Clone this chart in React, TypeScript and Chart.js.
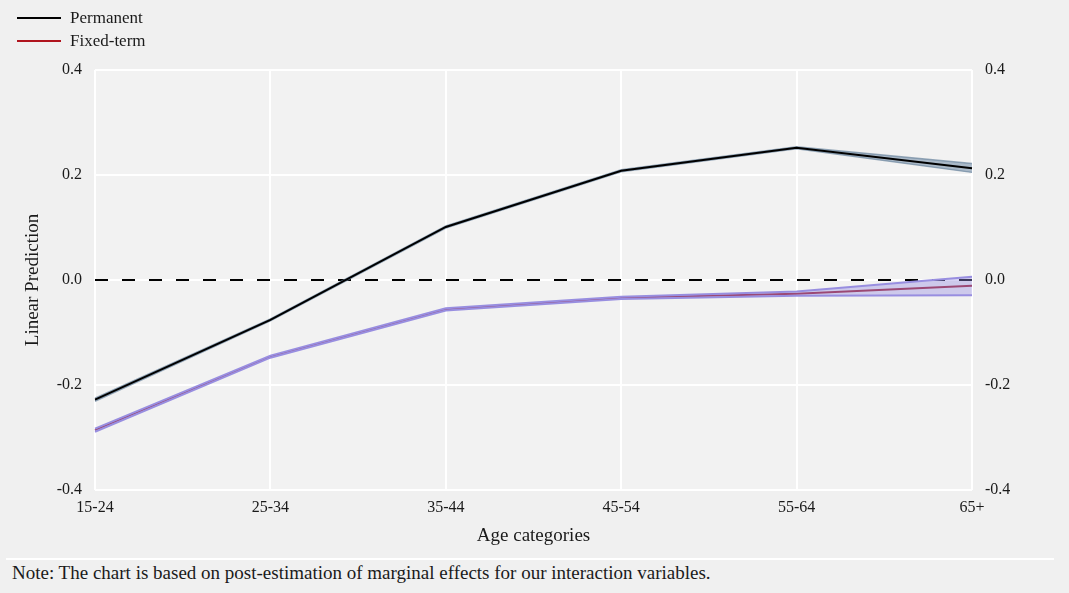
import React, { useEffect, useRef } from "react";
import { Chart, registerables } from "chart.js";

Chart.register(...registerables);

const categories = ["15-24", "25-34", "35-44", "45-54", "55-64", "65+"];
const permanent = [-0.228, -0.076, 0.101, 0.208, 0.252, 0.213];
const permanentUpper = [-0.225, -0.074, 0.103, 0.210, 0.254, 0.222];
const permanentLower = [-0.231, -0.078, 0.099, 0.206, 0.250, 0.205];
const fixedTerm = [-0.286, -0.146, -0.056, -0.034, -0.026, -0.011];
const fixedUpper = [-0.283, -0.144, -0.054, -0.032, -0.022, 0.006];
const fixedLower = [-0.289, -0.148, -0.058, -0.036, -0.030, -0.029];
const zeroLine = [0, 0, 0, 0, 0, 0];
const yMin = -0.4;
const yMax = 0.4;
const yStep = 0.2;

const FONT = "'Liberation Serif', 'Times New Roman', serif";
const TEXT = "#1a1a1a";
const W = 1069;
const H = 555;

const bgPlugin = {
  id: "areaBg",
  beforeDraw(chart: any) {
    const { ctx, chartArea } = chart;
    ctx.save();
    ctx.fillStyle = "#f2f2f2";
    ctx.fillRect(chartArea.left, chartArea.top, chartArea.right - chartArea.left, chartArea.bottom - chartArea.top);
    ctx.restore();
  },
};

export default function App() {
  const ref = useRef<HTMLCanvasElement>(null);

  useEffect(() => {
    document.body.style.margin = "0";
    const canvas = ref.current!;
    const tickFmt = (v: any) => Number(v).toFixed(1);
    const chart = new Chart(canvas, {
      type: "line",
      data: {
        labels: categories,
        datasets: [
          {
            label: "zero",
            data: zeroLine,
            borderColor: "#000",
            borderWidth: 2,
            borderDash: [13, 14],
            pointRadius: 0,
            fill: false,
            order: 10,
          },
          {
            label: "permUpper",
            data: permanentUpper,
            borderColor: "rgba(110,135,160,0.7)",
            borderWidth: 1.5,
            pointRadius: 0,
            backgroundColor: "rgba(120,145,170,0.6)",
            fill: "+1",
            order: 9,
          },
          {
            label: "permLower",
            data: permanentLower,
            borderColor: "rgba(110,135,160,0.7)",
            borderWidth: 1.5,
            pointRadius: 0,
            fill: false,
            order: 8,
          },
          {
            label: "Permanent",
            data: permanent,
            borderColor: "#000",
            borderWidth: 2,
            pointRadius: 0,
            fill: false,
            order: 7,
          },
          {
            label: "Fixed-term",
            data: fixedTerm,
            borderColor: "#9e1b2c",
            borderWidth: 2,
            pointRadius: 0,
            fill: false,
            order: 6,
          },
          {
            label: "fixedUpper",
            data: fixedUpper,
            borderColor: "rgb(152,142,224)",
            borderWidth: 2,
            pointRadius: 0,
            backgroundColor: "rgba(150,140,224,0.4)",
            fill: "+1",
            order: 5,
          },
          {
            label: "fixedLower",
            data: fixedLower,
            borderColor: "rgb(152,142,224)",
            borderWidth: 2,
            pointRadius: 0,
            fill: false,
            order: 4,
          },
        ],
      },
      options: {
        animation: false,
        responsive: false,
        devicePixelRatio: 1,
        layout: { padding: { top: 70, left: 0, right: 0, bottom: 0 } },
        plugins: {
          legend: { display: false },
          tooltip: { enabled: false },
        },
        elements: { line: { tension: 0 } },
        scales: {
          x: {
            type: "category",
            offset: false,
            grid: { color: "#ffffff", lineWidth: 2, drawTicks: false },
            border: { display: false },
            ticks: {
              padding: 8,
              color: TEXT,
              font: { family: FONT, size: 16 },
              maxRotation: 0,
              autoSkip: false,
            },
            title: {
              display: true,
              text: "Age categories",
              color: TEXT,
              font: { family: FONT, size: 19 },
              padding: { top: 0, bottom: 8 },
            },
            afterFit(scale: any) {
              scale.height = 65;
            },
          },
          y: {
            position: "left",
            min: yMin,
            max: yMax,
            grid: { color: "#ffffff", lineWidth: 2, drawTicks: false },
            border: { display: false },
            ticks: {
              stepSize: yStep,
              padding: 13,
              color: TEXT,
              font: { family: FONT, size: 16 },
              callback: tickFmt,
            },
            title: {
              display: true,
              text: "Linear Prediction",
              color: TEXT,
              font: { family: FONT, size: 19 },
              padding: { top: 22, bottom: 0 },
            },
            afterFit(scale: any) {
              scale.width = 95;
            },
          },
          y2: {
            position: "right",
            min: yMin,
            max: yMax,
            grid: { display: false, drawTicks: false },
            border: { display: false },
            ticks: {
              stepSize: yStep,
              padding: 13,
              color: TEXT,
              font: { family: FONT, size: 16 },
              callback: tickFmt,
            },
            afterFit(scale: any) {
              scale.width = 97;
            },
          },
        },
      },
      plugins: [bgPlugin],
    } as any);
    return () => chart.destroy();
  }, []);

  const legendItem = (color: string, label: string, top: number) => (
    <div style={{ position: "absolute", left: 17, top, height: 20, display: "flex", alignItems: "center" }}>
      <div style={{ width: 44, height: 2, background: color }} />
      <span style={{ marginLeft: 9, fontFamily: FONT, fontSize: 17, color: TEXT, lineHeight: "20px" }}>{label}</span>
    </div>
  );

  return (
    <div style={{ position: "relative", width: W, height: 593, background: "#f0f0f0", overflow: "hidden" }}>
      <canvas ref={ref} width={W} height={H} style={{ position: "absolute", left: 0, top: 0, width: W, height: H }} />
      {legendItem("#000000", "Permanent", 8)}
      {legendItem("#b0141e", "Fixed-term", 31)}
      <div style={{ position: "absolute", left: 6, top: 558, width: 1048, height: 2, background: "#ffffff" }} />
      <div style={{ position: "absolute", left: 12, top: 562, fontFamily: FONT, fontSize: 19, color: TEXT, lineHeight: "22px", whiteSpace: "nowrap" }}>
        Note: The chart is based on post-estimation of marginal effects for our interaction variables.
      </div>
    </div>
  );
}
